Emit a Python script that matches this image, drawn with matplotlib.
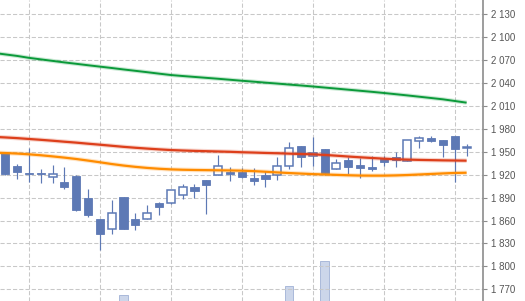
import matplotlib
matplotlib.use("Agg")
import matplotlib.pyplot as plt
import numpy as np
from matplotlib.patches import Rectangle

# ---- data ----
opens  = [1948, 1931, 1922.5, 1922.5, 1916.6, 1910.5, 1918.3, 1889.5, 1862, 1848.5,
          1891, 1862, 1862.5, 1882.6, 1882.6, 1893, 1904, 1913, 1919.2, 1923.5,
          1924, 1915.7, 1919.6, 1919.2, 1931, 1957.6, 1944, 1953.7, 1928, 1939.3,
          1932.7, 1930, 1940.6, 1943.2, 1937.6, 1964.5, 1968, 1965.4, 1970.7, 1955.6]
highs  = [1949, 1934.5, 1955, 1927.5, 1932.7, 1930.5, 1919, 1901, 1862, 1886.5,
          1891, 1869.5, 1880, 1884.7, 1899.6, 1907.5, 1907.5, 1913, 1946, 1930,
          1928.4, 1928.4, 1924.5, 1943.6, 1962.5, 1958, 1969, 1954, 1940, 1943.6,
          1941.5, 1944.9, 1945, 1949.4, 1965, 1970.7, 1970.7, 1965.5, 1971, 1960.2]
lows   = [1920, 1915, 1911, 1908.8, 1909.6, 1901.7, 1873, 1865, 1821.5, 1842,
          1849, 1847.7, 1862, 1867, 1882, 1888, 1890, 1868, 1919, 1911.4,
          1915.3, 1906.2, 1903.5, 1913, 1927, 1929.7, 1931.8, 1920, 1927, 1920.6,
          1915.3, 1924.9, 1931.8, 1929.7, 1937.6, 1954.6, 1963, 1943.6, 1910, 1945]
closes = [1921.3, 1923.5, 1920.6, 1920.6, 1921, 1904.3, 1874, 1867.7, 1843, 1869.5,
          1849.5, 1854.6, 1869.5, 1878.2, 1899.6, 1903.5, 1899, 1907, 1931, 1921,
          1917, 1911.4, 1914.8, 1931, 1954.6, 1943.6, 1949, 1922, 1935, 1929.7,
          1929.2, 1927.5, 1936.6, 1939, 1965, 1967.7, 1964, 1959, 1954, 1956.4]
volumes = [60, 55, 70, 50, 45, 60, 80, 75, 90, 70,
           105.7, 60, 55, 50, 65, 60, 55, 85, 70, 50,
           45, 50, 45, 60, 115, 80, 75, 140, 60, 55,
           50, 45, 50, 55, 90, 60, 50, 55, 95, 40]
# moving averages: first value belongs to the (off-screen) bar before the first candle
ma_long = [2079.5, 2077.5, 2075.5, 2073.0, 2071.0, 2069.0, 2067.0, 2065.2, 2063.3, 2061.5, 2059.7,
           2057.8, 2056.0, 2054.2, 2052.3, 2050.5, 2049.2, 2048.0, 2046.8, 2045.6, 2044.3,
           2043.0, 2041.8, 2040.5, 2039.3, 2038.0, 2036.8, 2035.5, 2034.1, 2032.7, 2031.3,
           2029.9, 2028.5, 2027.0, 2025.4, 2023.8, 2022.1, 2020.4, 2018.7, 2016.5, 2014.3]
ma_mid = [1969.6, 1968.8, 1967.9, 1966.8, 1965.7, 1964.5, 1963.2, 1962.0, 1960.6, 1959.3, 1957.9,
          1956.5, 1955.3, 1954.2, 1953.2, 1952.3, 1951.7, 1951.2, 1950.8, 1950.4, 1950.0,
          1949.4, 1949.0, 1948.5, 1948.1, 1947.6, 1947.1, 1946.7, 1945.9, 1944.9, 1943.8,
          1942.8, 1941.9, 1941.0, 1940.2, 1939.8, 1939.4, 1939.1, 1938.8, 1938.6, 1938.4]
ma_short = [1948.9, 1948.4, 1947.7, 1946.7, 1945.5, 1944.0, 1942.4, 1940.6, 1938.5, 1936.3, 1934.0,
            1932.0, 1930.3, 1928.9, 1927.8, 1927.0, 1926.5, 1926.2, 1926.0, 1925.8, 1925.6,
            1925.3, 1924.7, 1923.9, 1923.0, 1922.2, 1921.5, 1920.8, 1920.3, 1919.8, 1919.3,
            1918.9, 1918.8, 1918.8, 1919.1, 1919.6, 1920.3, 1921.0, 1921.7, 1922.3, 1922.6]
y_ticks = [1770, 1800, 1830, 1860, 1890, 1920, 1950, 1980, 2010, 2040, 2070, 2100, 2130]
y_tick_labels = ["1 770", "1 800", "1 830", "1 860", "1 890", "1 920", "1 950",
                 "1 980", "2 010", "2 040", "2 070", "2 100", "2 130"]
x_grid = [2, 8, 14, 20, 26, 32, 38]

# ---- style ----
BLUE = "#5d79b5"
GRID = "#c8c8c8"
plt.rcParams["font.family"] = ["Liberation Sans", "DejaVu Sans"]

fig = plt.figure(figsize=(5.25, 3.01), dpi=100)
ax = fig.add_axes([0, 0, 482.7 / 525, 1])
axv = ax.twinx()
ax.set_zorder(axv.get_zorder() + 1)
ax.patch.set_visible(False)

n = len(opens)
x = np.arange(n)
ax.set_xlim(-0.44, 40.36)
ax.set_ylim(1754.7, 2148.7)

# volume (background)
axv.bar(x, volumes, width=0.7, color="#ccd6ea", edgecolor="#aab9da", linewidth=0.7)
axv.set_ylim(100, 401)
axv.set_yticks([])
for s in axv.spines.values():
    s.set_visible(False)

# grid
for gx in x_grid:
    ax.axvline(gx, color=GRID, lw=0.75, ls=(0, (4, 2)), zorder=0)
for gy in y_ticks:
    ax.axhline(gy, color=GRID, lw=0.75, ls=(0, (4, 2)), zorder=0)

# candles
w = 0.68
for i in range(n):
    o, h, l, c = opens[i], highs[i], lows[i], closes[i]
    ax.plot([i, i], [l, h], color=BLUE, lw=0.85, zorder=2, solid_capstyle="butt")
    lo, hi = min(o, c), max(o, c)
    hgt = max(hi - lo, 0.8)
    if c > o:
        r = Rectangle((i - w / 2, lo), w, hgt, facecolor="white", edgecolor=BLUE, lw=1.1, zorder=3)
    else:
        r = Rectangle((i - w / 2, lo), w, hgt, facecolor=BLUE, edgecolor=BLUE, lw=0.6, zorder=3)
    ax.add_patch(r)

# moving averages
xm = np.arange(-1, n)
for vals, col, lw in [(ma_long, "#0b9a3a", 1.4), (ma_mid, "#dd3f1b", 1.6), (ma_short, "#ff8c00", 1.6)]:
    ax.plot(xm, vals, color=col, lw=lw + 1.6, alpha=0.22, zorder=4, solid_capstyle="butt")
    ax.plot(xm, vals, color=col, lw=lw, zorder=5, solid_capstyle="butt")

# axes styling
for k in ["top", "left", "bottom"]:
    ax.spines[k].set_visible(False)
ax.spines["right"].set_color("#8c8c8c")
ax.spines["right"].set_linewidth(1.2)
ax.yaxis.tick_right()
ax.set_yticks(y_ticks)
ax.set_yticklabels(y_tick_labels)
ax.tick_params(axis="y", direction="out", length=3, width=0.8, color="#8c8c8c",
               labelsize=7, labelcolor="#555555", pad=3)
ax.set_xticks([])

fig.savefig("out.png", dpi=100)
